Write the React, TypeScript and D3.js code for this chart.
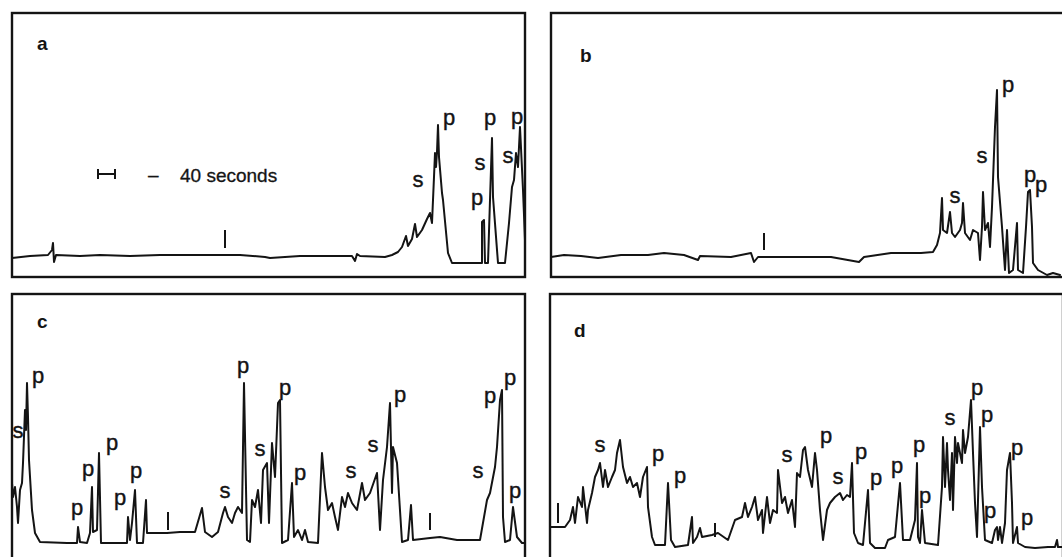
import React from 'react';
import * as d3 from 'd3';

// Traces: [time (arbitrary units), signal (arbitrary units)]
const traceA: [number, number][] = [
  [0, 19], [18, 21], [36, 22], [40, 27], [41, 34], [42, 15], [44, 22], [68, 21], [88, 22], [118, 21],
  [148, 22], [188, 22], [228, 22], [253, 20], [258, 19], [288, 21], [328, 21], [340, 21], [343, 16],
  [345, 23], [348, 21], [373, 20], [380, 22], [386, 25], [390, 30], [394, 41], [396, 31], [400, 38],
  [403, 53], [405, 40], [410, 47], [415, 58], [418, 64], [420, 54], [421, 77], [422, 100], [423, 124],
  [424, 110], [425, 125], [426, 152], [427, 120], [430, 84], [431, 77], [436, 24], [440, 14], [470, 14],
  [470, 55], [472, 57], [473, 14], [476, 14], [478, 77], [480, 139], [481, 80], [486, 14], [493, 14],
  [497, 54], [500, 90], [502, 97], [504, 124], [506, 110], [508, 150], [511, 87], [513, 37],
];

const traceB: [number, number][] = [
  [0, 20], [13, 22], [30, 21], [47, 19], [70, 22], [97, 22], [113, 24], [133, 22], [147, 17], [149, 21],
  [180, 20], [200, 24], [203, 15], [207, 20], [247, 20], [280, 20], [308, 15], [313, 20], [340, 24],
  [370, 24], [382, 25], [386, 32], [389, 44], [391, 79], [392, 47], [396, 44], [399, 65], [401, 44],
  [404, 40], [409, 47], [411, 54], [412, 74], [414, 44], [419, 37], [422, 47], [427, 44], [429, 17],
  [431, 50], [432, 85], [434, 47], [437, 54], [439, 30], [441, 70], [444, 150], [446, 187], [447, 100],
  [451, 50], [454, 7], [456, 47], [458, 4], [462, 7], [466, 54], [467, 7], [472, 4], [475, 50], [477, 85],
  [479, 87], [481, 50], [482, 14], [487, 7], [496, 2], [502, 4], [509, 2],
];

const traceC: [number, number][] = [
  [0, 72], [1, 58], [3, 68], [5, 48], [6, 32], [8, 65], [10, 72], [11, 92], [13, 145], [14, 125],
  [15, 172], [16, 138], [17, 95], [20, 45], [23, 22], [28, 13], [55, 12], [65, 12], [66, 28], [68, 13],
  [75, 12], [78, 22], [80, 68], [81, 23], [85, 25], [87, 102], [89, 12], [101, 12], [115, 12], [116, 38],
  [118, 15], [120, 32], [123, 65], [125, 12], [131, 12], [134, 55], [135, 22], [141, 22], [155, 22],
  [168, 23], [183, 23], [190, 47], [193, 23], [200, 18], [206, 23], [211, 42], [213, 48], [216, 38],
  [220, 32], [223, 42], [226, 48], [230, 42], [232, 172], [235, 15], [238, 13], [240, 55], [243, 48],
  [246, 65], [249, 32], [251, 85], [255, 92], [257, 32], [260, 112], [263, 78], [266, 152], [268, 155],
  [270, 12], [276, 15], [280, 72], [282, 18], [286, 25], [290, 15], [293, 25], [296, 13], [306, 12],
  [310, 102], [313, 68], [316, 45], [320, 52], [323, 38], [326, 25], [330, 58], [333, 48], [336, 62],
  [340, 52], [345, 45], [350, 72], [353, 55], [358, 62], [365, 82], [368, 25], [371, 75], [375, 108],
  [378, 152], [380, 62], [381, 108], [385, 92], [390, 13], [396, 15], [399, 50], [401, 15], [418, 17],
  [428, 18], [445, 15], [468, 15], [475, 55], [478, 62], [483, 88], [485, 108], [488, 155], [490, 165],
  [491, 38], [493, 13], [498, 15], [501, 48], [505, 18], [510, 12], [513, 12],
];

const traceD: [number, number][] = [
  [0, 28], [15, 28], [20, 35], [23, 48], [25, 32], [28, 58], [32, 48], [33, 68], [37, 32], [38, 45],
  [42, 62], [45, 78], [48, 85], [50, 92], [53, 68], [55, 85], [58, 68], [62, 78], [65, 85], [67, 102],
  [70, 115], [73, 88], [77, 72], [80, 78], [83, 68], [87, 72], [90, 58], [93, 78], [97, 88], [98, 48],
  [102, 18], [105, 10], [115, 10], [118, 72], [121, 15], [125, 8], [138, 10], [142, 38], [143, 12],
  [147, 18], [150, 27], [152, 18], [162, 20], [168, 22], [178, 15], [185, 35], [192, 38], [195, 52],
  [198, 38], [202, 48], [205, 58], [208, 35], [212, 45], [213, 22], [217, 58], [220, 32], [223, 45],
  [227, 42], [228, 85], [232, 52], [235, 58], [238, 42], [242, 55], [245, 28], [247, 82], [250, 78],
  [253, 105], [255, 108], [258, 85], [262, 68], [265, 102], [267, 85], [270, 45], [273, 15], [277, 45],
  [280, 52], [285, 58], [290, 62], [293, 55], [297, 60], [300, 58], [302, 92], [304, 22], [308, 12],
  [313, 10], [318, 65], [320, 12], [325, 7], [335, 7], [338, 15], [345, 18], [350, 72], [353, 15],
  [360, 15], [365, 35], [367, 92], [368, 18], [370, 12], [372, 45], [375, 12], [388, 10], [392, 68],
  [393, 118], [395, 68], [397, 112], [398, 85], [400, 55], [402, 102], [403, 45], [405, 118], [407, 92],
  [408, 112], [412, 92], [413, 125], [415, 102], [418, 118], [421, 155], [423, 102], [425, 52], [427, 18],
  [430, 128], [432, 68], [435, 15], [442, 12], [445, 25], [447, 28], [448, 15], [450, 28], [452, 12],
  [455, 32], [457, 85], [460, 102], [462, 52], [463, 12], [467, 28], [468, 12], [475, 8], [485, 7],
  [498, 8], [505, 8], [507, 15], [508, 8], [512, 8],
];

// peak annotations: [time, signal, letter]
const labelsA: [number, number, string][] = [
  [406, 90, 's'], [437, 152, 'p'], [465, 72, 'p'], [468, 107, 's'], [478, 152, 'p'], [496, 114, 's'], [505, 153, 'p'],
];
const labelsB: [number, number, string][] = [
  [404, 74, 's'], [431, 114, 's'], [457, 185, 'p'], [479, 95, 'p'], [490, 85, 'p'],
];
const labelsC: [number, number, string][] = [
  [6, 117, 's'], [26, 172, 'p'], [65, 40, 'p'], [76, 79, 'p'], [100, 105, 'p'], [108, 50, 'p'], [124, 77, 'p'],
  [213, 57, 's'], [231, 182, 'p'], [248, 99, 's'], [273, 160, 'p'], [288, 75, 'p'], [339, 77, 's'],
  [361, 103, 's'], [388, 153, 'p'], [466, 77, 's'], [478, 152, 'p'], [498, 170, 'p'], [503, 57, 'p'],
];
const labelsD: [number, number, string][] = [
  [50, 103, 's'], [108, 94, 'p'], [130, 72, 'p'], [237, 93, 's'], [276, 112, 'p'], [288, 71, 's'],
  [311, 96, 'p'], [326, 70, 'p'], [347, 82, 'p'], [369, 103, 'p'], [375, 52, 'p'], [400, 130, 's'],
  [427, 160, 'p'], [437, 133, 'p'], [440, 37, 'p'], [467, 100, 'p'], [477, 30, 'p'],
];

// injection marks: [time, from, to]
const marksA: [number, number, number][] = [[213, 29, 47]];
const marksB: [number, number, number][] = [[213, 27, 44]];
const marksC: [number, number, number][] = [[156, 25, 43], [418, 25, 42]];
const marksD: [number, number, number][] = [[8, 32, 52], [165, 18, 32]];

const panels = [
  { id: 'a', left: 12, top: 13, bottom: 277, yMin: 0, trace: traceA, labels: labelsA, marks: marksA, tag: [25, 37] },
  { id: 'b', left: 551, top: 13, bottom: 277, yMin: 0, trace: traceB, labels: labelsB, marks: marksB, tag: [29, 49] },
  { id: 'c', left: 12, top: 294, bottom: 562, yMin: -7, trace: traceC, labels: labelsC, marks: marksC, tag: [25, 34] },
  { id: 'd', left: 550, top: 294, bottom: 562, yMin: -7, trace: traceD, labels: labelsD, marks: marksD, tag: [24, 43] },
];

const WIDTH = 1062;
const HEIGHT = 557;
const SPAN = 513;
const ink = '#141414';
const font = 'Liberation Sans, Arial, sans-serif';

const App: React.FC = () => {
  return (
    <div style={{ position: 'absolute', left: 0, top: 0 }}>
      <svg width={WIDTH} height={HEIGHT} viewBox={`0 0 ${WIDTH} ${HEIGHT}`} style={{ display: 'block', background: '#fff' }}>
        {panels.map(p => {
          const x = d3.scaleLinear().domain([0, SPAN]).range([p.left, p.left + SPAN]);
          const y = d3.scaleLinear().domain([p.yMin, p.yMin + (p.bottom - p.top)]).range([p.bottom, p.top]);
          const line = d3.line<[number, number]>().x(d => x(d[0])).y(d => y(d[1]));
          return (
            <g key={p.id}>
              <rect x={p.left} y={p.top} width={SPAN} height={p.bottom - p.top}
                fill="none" stroke={ink} strokeWidth={2.4} />
              <text x={p.left + p.tag[0]} y={p.top + p.tag[1]} fontFamily={font}
                fontWeight="bold" fontSize={19} fill={ink}>{p.id}</text>
              <path d={line(p.trace) || ''} fill="none" stroke={ink} strokeWidth={2}
                strokeLinejoin="round" strokeLinecap="round" />
              {p.marks.map((m, i) => (
                <line key={i} x1={x(m[0])} x2={x(m[0])} y1={y(m[1])} y2={y(m[2])} stroke={ink} strokeWidth={2} />
              ))}
              {p.labels.map((l, i) => (
                <text key={i} x={x(l[0])} y={y(l[1])} textAnchor="middle" fontFamily={font} fontSize={22}
                  fill={ink} stroke={ink} strokeWidth={0.4}>{l[2]}</text>
              ))}
            </g>
          );
        })}
        {/* scale bar, panel a */}
        <g stroke={ink} strokeWidth={2}>
          <line x1={98} x2={115} y1={174} y2={174} />
          <line x1={98} x2={98} y1={169} y2={179} />
          <line x1={115} x2={115} y1={169} y2={179} />
        </g>
        <text x={148} y={181} fontFamily={font} fontSize={19} fill={ink} stroke={ink} strokeWidth={0.3}>–</text>
        <text x={180} y={182} fontFamily={font} fontSize={19} fill={ink} stroke={ink} strokeWidth={0.3}>40 seconds</text>
      </svg>
    </div>
  );
};

export default App;
